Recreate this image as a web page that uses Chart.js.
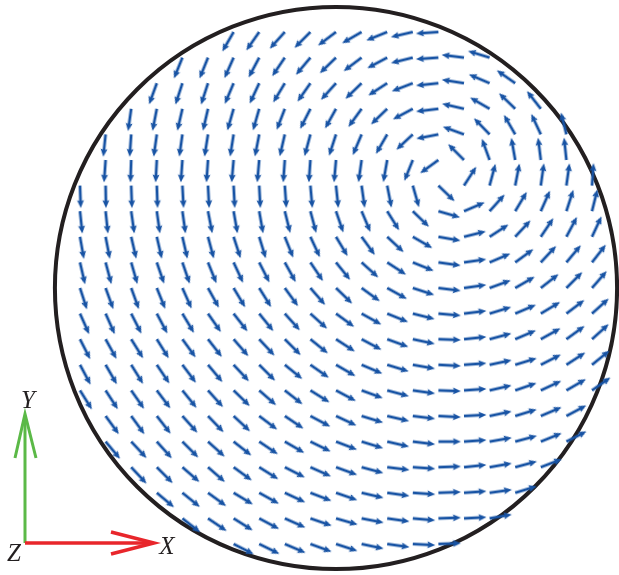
<!DOCTYPE html>
<html><head><meta charset="utf-8">
<script src="https://cdn.jsdelivr.net/npm/chart.js@4.4.1/dist/chart.umd.min.js"></script>
<style>html,body{margin:0;padding:0;background:#fff;overflow:hidden}#wrap{position:relative;width:619px;height:575px}</style>
</head><body><div id="wrap"><canvas id="c"></canvas></div>
<script>
// Measurement grid rows (row -10 = top, +10 = bottom); first column index of each row
const rowIndex    = [-10,-9,-8,-7,-6,-5,-4,-3,-2,-1,0,1,2,3,4,5,6,7,8,9,10];
const rowFirstCol = [-4,-6,-7,-8,-9,-9,-10,-10,-10,-10,-10,-10,-10,-10,-10,-9,-9,-8,-7,-6,-4];
// Arrow directions (degrees, counter-clockwise from +X), read column by column left to right
const rowM10 = [240,235,228,225,217,210,202,193,184];
const rowM9  = [248,248,246,242,236,230,224,217,208,194,184,173,163];
const rowM8  = [250,252,252,247,245,239,235,228,224,213,201,186,171,157,145];
const rowM7  = [262,259,257,257,254,254,249,243,241,234,224,208,187,167,150,136,128];
const rowM6  = [264,266,262,262,261,261,259,257,255,252,247,240,223,191,160,134,120,115,104];
const rowM5  = [266,268,267,266,266,265,265,266,266,265,262,260,248,216,135,110,100,97,96];
const rowM4  = [272,271,272,272,273,273,273,273,274,275,276,278,281,286,316,57,75,79,82,82,86];
const rowM3  = [276,276,278,278,278,281,280,280,284,285,289,293,302,316,344,23,48,59,66,72,76];
const rowM2  = [280,281,283,283,283,285,288,287,292,295,301,306,317,330,350,14,33,47,56,62,65];
const rowM1  = [283,285,286,289,289,292,295,297,299,304,309,318,327,338,352,8,23,36,47,50,52];
const row0   = [288,290,290,292,294,299,301,302,306,311,316,324,331,342,353,8,20,30,38,45,49];
const rowP1  = [294,294,297,298,301,305,308,309,312,318,324,331,338,346,355,7,17,23,31,37,42];
const rowP2  = [297,299,302,302,306,308,311,313,315,321,327,332,340,348,358,6,15,23,29,36,42];
const rowP3  = [298,300,302,304,307,310,313,315,321,325,330,337,343,350,357,4,12,17,27,33,39];
const rowP4  = [302,303,305,307,309,312,316,319,322,328,332,340,345,352,358,4,13,19,25,30,35];
const rowP5  = [306,306,308,312,314,317,323,326,332,335,343,347,353,357,3,12,17,23,28];
const rowP6  = [310,313,312,315,318,322,326,330,334,339,343,347,353,0,4,10,15,22,27];
const rowP7  = [313,315,319,319,324,328,333,336,340,345,353,356,2,6,10,15,21];
const rowP8  = [320,321,324,329,331,335,339,341,347,352,356,2,4,8,17];
const rowP9  = [322,326,328,332,336,341,344,349,352,355,2,3,10];
const rowP10 = [333,334,337,340,342,348,352,357,2];
const rowAngles = [rowM10,rowM9,rowM8,rowM7,rowM6,rowM5,rowM4,rowM3,rowM2,rowM1,row0,
                   rowP1,rowP2,rowP3,rowP4,rowP5,rowP6,rowP7,rowP8,rowP9,rowP10];
const boundaryRadius = 10.98;   // pipe wall radius in grid units
const axisLabels = ['X','Y','Z'];

// build point table
const points = [];
rowIndex.forEach((r, i) => {
  rowAngles[i].forEach((a, j) => {
    points.push({x: rowFirstCol[i] + j, y: -r, a: a});
  });
});

// arrow sprite: tail at the sprite centre, pointing to +X
const L = 22.5;
const arrowImg = document.createElement('canvas');
arrowImg.width = 50; arrowImg.height = 14;
(function(){
  const g = arrowImg.getContext('2d');
  const cx = arrowImg.width / 2, cy = arrowImg.height / 2;
  g.strokeStyle = '#1753a4'; g.fillStyle = '#1753a4';
  g.lineWidth = 2.8; g.lineCap = 'butt';
  g.beginPath(); g.moveTo(cx, cy); g.lineTo(cx + L - 5, cy); g.stroke();
  g.beginPath();
  g.moveTo(cx + L, cy);
  g.lineTo(cx + L - 8, cy - 3.6);
  g.lineTo(cx + L - 6.5, cy);
  g.lineTo(cx + L - 8, cy + 3.6);
  g.closePath(); g.fill();
})();

const wallPlugin = {
  id: 'wall',
  beforeDatasetsDraw(chart) {
    const {ctx, scales: {x, y}} = chart;
    const px = x.getPixelForValue(0), py = y.getPixelForValue(0);
    const rr = x.getPixelForValue(boundaryRadius) - px;
    ctx.save();
    ctx.strokeStyle = '#231f20'; ctx.lineWidth = 4;
    ctx.beginPath(); ctx.arc(px, py, rr, 0, Math.PI * 2); ctx.stroke();
    ctx.restore();
  }
};

const triadPlugin = {
  id: 'triad',
  afterDraw(chart) {
    const ctx = chart.ctx;
    const ox = 25, oy = 543;
    ctx.save();
    ctx.lineCap = 'butt';
    // Y axis (green)
    ctx.strokeStyle = '#5bb947'; ctx.lineWidth = 3;
    ctx.beginPath(); ctx.moveTo(ox, oy); ctx.lineTo(ox, 416); ctx.stroke();
    ctx.beginPath(); ctx.moveTo(15, 458); ctx.lineTo(ox, 414); ctx.lineTo(36, 458); ctx.stroke();
    // X axis (red)
    ctx.strokeStyle = '#e8262b'; ctx.lineWidth = 3.5;
    ctx.beginPath(); ctx.moveTo(ox, oy); ctx.lineTo(152, oy); ctx.stroke();
    ctx.beginPath(); ctx.moveTo(111, 532); ctx.lineTo(154, oy); ctx.lineTo(111, 554); ctx.stroke();
    // labels
    ctx.fillStyle = '#231f20';
    ctx.font = 'italic 25px "Liberation Serif", "DejaVu Serif", serif';
    ctx.textAlign = 'center'; ctx.textBaseline = 'middle';
    ctx.fillText(axisLabels[0], 167, 547);
    ctx.fillText(axisLabels[1], 28, 401);
    ctx.fillText(axisLabels[2], 14, 554);
    ctx.restore();
  }
};

new Chart(document.getElementById('c'), {
  type: 'scatter',
  data: {
    datasets: [{
      data: points,
      pointStyle: arrowImg,
      pointRadius: 5,
      rotation: c => -(c.raw ? c.raw.a : 0),
      clip: false
    }]
  },
  options: {
    responsive: true,
    maintainAspectRatio: false,
    animation: false,
    events: [],
    layout: {padding: 0, autoPadding: false},
    plugins: {legend: {display: false}, tooltip: {enabled: false}},
    scales: {
      x: {type: 'linear', display: false, min: -13.125, max: 11.0547},
      y: {type: 'linear', display: false, min: -11.2109, max: 11.25}
    }
  },
  plugins: [wallPlugin, triadPlugin]
});
</script></body></html>
